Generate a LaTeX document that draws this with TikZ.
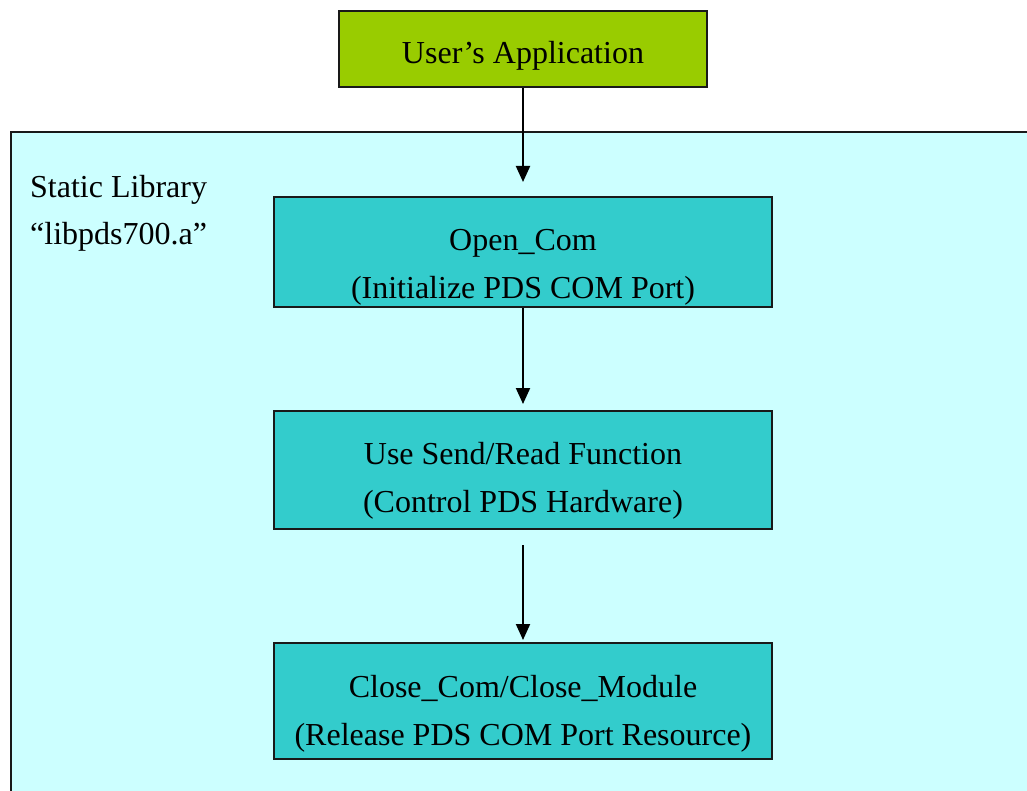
\documentclass[tikz,border=0pt]{standalone}
\usepackage{fontspec}
\setmainfont{Liberation Serif}
\usetikzlibrary{arrows.meta}
\definecolor{appgreen}{HTML}{99CC00}
\definecolor{libcyan}{HTML}{CCFFFF}
\definecolor{stepteal}{HTML}{33CCCC}
\begin{document}
\begin{tikzpicture}[x=1pt, y=-1pt]
\tikzset{box/.style={draw=black!90, line width=2pt, rectangle, align=center, inner sep=0pt,
                     font=\fontsize{32}{48}\selectfont},
         appbox/.style={box, fill=appgreen, minimum width=368pt, minimum height=76pt,
                        text height=29pt, text depth=0pt},
         stepbox/.style={box, fill=stepteal, minimum width=498pt, text height=102pt, text depth=8pt},
         flow/.style={-{Triangle[length=16pt, width=14pt]}, line width=2pt}}
\useasboundingbox (0,0) rectangle (1027,791);
  \node[draw=black!90, line width=2pt, fill=libcyan, anchor=north west,
        minimum width=1060pt, minimum height=700pt] (lib) at (10,131) {};
  \node[anchor=base west, align=left, inner sep=0pt, font=\fontsize{32}{47}\selectfont]
       (libname) at (30,245) {Static Library\\“libpds700.a”};

  \node[appbox] (app) at (523,49) {User’s Application};
  \node[stepbox, minimum height=110pt] (open) at (523,252) {Open\_Com\\(Initialize PDS COM Port)};
  \node[stepbox, minimum height=118pt, text height=92pt] (send) at (523,470) {Use Send/Read Function\\(Control PDS Hardware)};
  \node[stepbox, minimum height=116pt, text height=96pt] (close) at (523,701) {Close\_Com/Close\_Module\\(Release PDS COM Port Resource)};

  \draw[flow] (app.south) -- ([yshift=14pt]open.north);
  \draw[flow] (open.south) -- ([yshift=6pt]send.north);
  \draw[flow] ([yshift=-15pt]send.south) -- ([yshift=2pt]close.north);
\end{tikzpicture}
\end{document}
